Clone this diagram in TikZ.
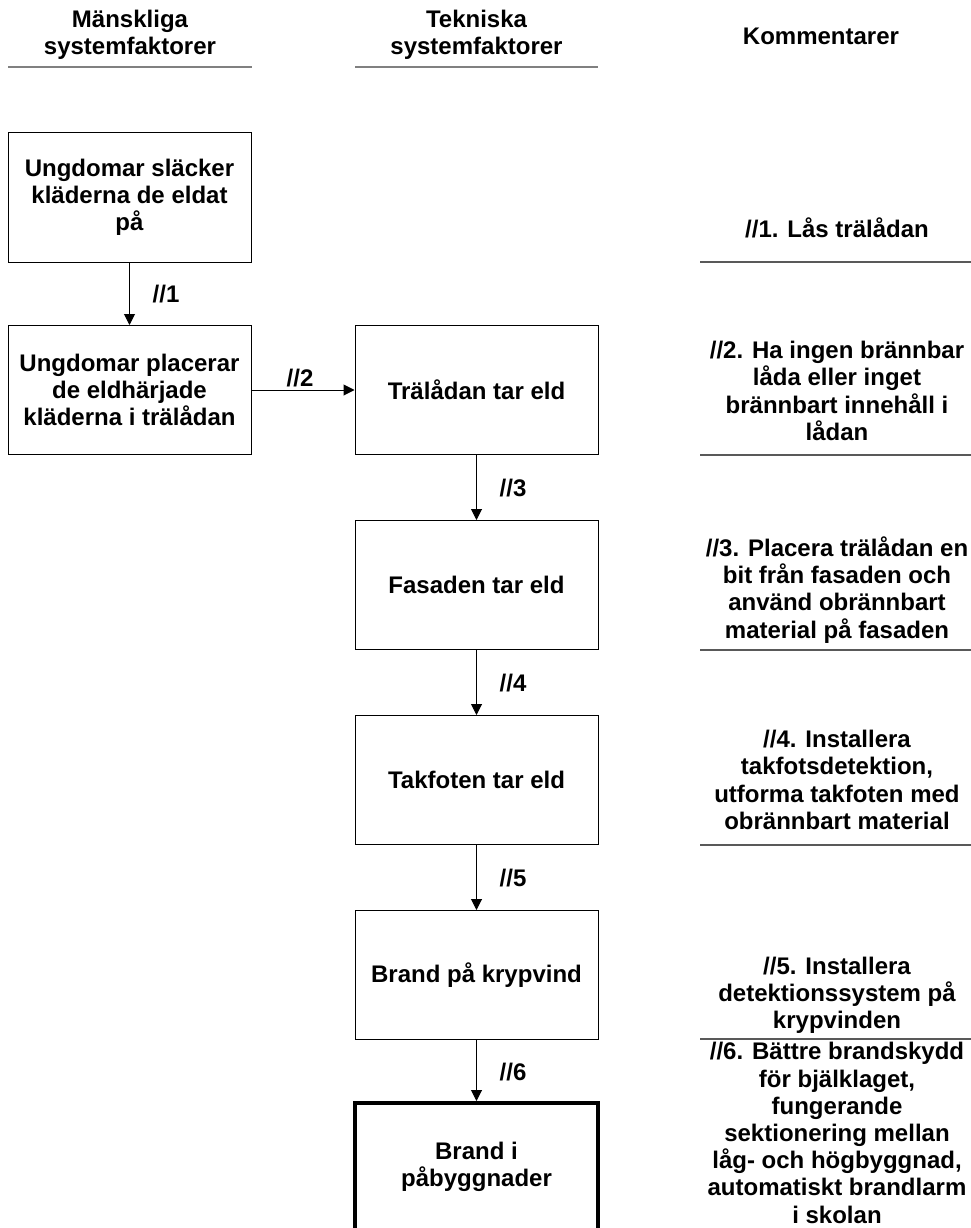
\documentclass[tikz,border=0pt]{standalone}
\usepackage{fontspec}
\setmainfont{Liberation Sans}
\usetikzlibrary{arrows.meta}
\begin{document}
\begin{tikzpicture}[x=1pt,y=-1pt,
  every node/.style={font=\fontsize{24}{27.2}\selectfont\bfseries, align=center, inner sep=0pt},
  stepbox/.style={draw, line width=1pt, minimum width=243pt, minimum height=129pt},
  finalbox/.style={draw, line width=4pt, minimum width=243pt, minimum height=128pt},
  flow/.style={line width=1pt, -{Triangle[length=11pt,width=11pt]}},
  headrule/.style={draw=black!50, line width=2pt},
  noterule/.style={draw=black!65, line width=1.6pt}]
\useasboundingbox (0,0) rectangle (971,1228);
\begin{scope}
\clip (0,0) rectangle (971,1228);

% column headings
\node (hm) at (130,35) {Mänskliga\\systemfaktorer};
\node (ht) at (476.5,35) {Tekniska\\systemfaktorer};
\node (hk) at (821,36) {Kommentarer};
\draw[headrule] (8,67.5) -- (252,67.5);
\draw[headrule] (355,67.5) -- (598,67.5);

% event chain
\node[stepbox] (b1) at (129.5,197.5) {Ungdomar släcker\\kläderna de eldat\\på};
\node[stepbox] (b2) at (129.5,390) {Ungdomar placerar\\de eldhärjade\\kläderna i trälådan};
\node[stepbox] (b3) at (476.5,390) {Trälådan tar eld};
\node[stepbox] (b4) at (476.5,585) {Fasaden tar eld};
\node[stepbox] (b5) at (476.5,780) {Takfoten tar eld};
\node[stepbox] (b6) at (476.5,975) {Brand på krypvind};
\node[finalbox] (b7) at (476.5,1167) {Brand i\\påbyggnader};

\draw[flow] (b1) -- (b2);
\draw[flow] (b2) -- (b3);
\draw[flow] (b3) -- (b4);
\draw[flow] (b4) -- (b5);
\draw[flow] (b5) -- (b6);
\draw[flow] (b6) -- (b7.north);

% barrier labels
\node (l1) at (166,294) {//1};
\node (l2) at (300,378) {//2};
\node (l3) at (513,488) {//3};
\node (l4) at (513,683) {//4};
\node (l5) at (513,878) {//5};
\node (l6) at (513,1072) {//6};

% comments
\node (c1) at (837,228) {//1. Lås trälådan};
\node (c2) at (837,391) {//2. Ha ingen brännbar\\låda eller inget\\brännbart innehåll i\\lådan};
\node (c3) at (837,590) {//3. Placera trälådan en\\bit från fasaden och\\använd obrännbart\\material på fasaden};
\node (c4) at (837,780) {//4. Installera\\takfotsdetektion,\\utforma takfoten med\\obrännbart material};
\node (c5) at (837,995) {//5. Installera\\detektionssystem på\\krypvinden};
\node (c6) at (837,1133) {//6. Bättre brandskydd\\för bjälklaget,\\fungerande\\sektionering mellan\\låg- och högbyggnad,\\automatiskt brandlarm\\i skolan};

\foreach \yy in {262,455,650,845,1039}
  \draw[noterule] (700,\yy) -- (971,\yy);
\end{scope}
\end{tikzpicture}
\end{document}
